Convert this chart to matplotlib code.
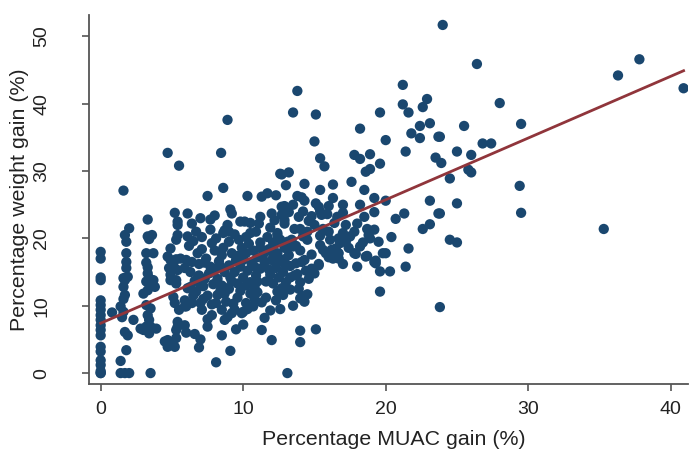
import matplotlib
matplotlib.use('Agg')
import matplotlib.pyplot as plt
import numpy as np

# Percentage MUAC gain (x) / percentage weight gain (y)
col0_weight = [0, 0, 0.3, 1.2, 1.9, 3.2, 3.9, 5.6, 6.4, 7.1, 7.9, 8.6, 9.4,
               10.1, 10.8, 13.8, 14.2, 17.0, 18.0]

left_pts = [
    (1.6, 27.1), (2.0, 21.5), (1.7, 20.5), (1.8, 19.5), (1.8, 17.8), (1.8, 15.6),
    (1.6, 14.1), (1.9, 14.3), (1.7, 13.8), (1.6, 12.8), (1.7, 11.6), (1.4, 9.9),
    (1.6, 9.1), (0.8, 9.0), (2.3, 7.9), (1.7, 6.1), (1.9, 5.6), (1.8, 3.4),
    (1.4, 1.8), (1.4, 0), (1.7, 0), (2.0, 0), (1.6, 11.0), (1.5, 8.3), (1.8, 16.5),
    (3.3, 22.8), (3.3, 20.3), (3.4, 19.9), (3.2, 17.8), (3.7, 17.8), (3.2, 16.4),
    (3.3, 15.7), (3.3, 14.8), (3.4, 14.1), (3.2, 13.6), (3.7, 13.8), (3.5, 13.1),
    (3.3, 12.3), (3.0, 11.8), (3.2, 10.1), (3.5, 9.6), (3.3, 8.6), (3.4, 7.9),
    (3.2, 6.9), (3.0, 6.4), (2.8, 6.6), (3.5, 6.9), (3.9, 6.6), (3.4, 5.9),
    (3.5, 0), (3.8, 12.8), (3.6, 20.5),
]

mid_left_pts = [
    (4.7, 32.7), (5.5, 30.8), (5.2, 23.8), (6.1, 23.7), (5.4, 22.5), (5.4, 22.0),
    (5.4, 20.5), (5.3, 19.8), (4.9, 18.5), (4.7, 17.3), (4.9, 16.8), (5.3, 16.9),
    (5.1, 16.0), (4.8, 15.6), (5.4, 15.3), (4.9, 14.6), (5.3, 13.8), (5.6, 17.0),
    (6.0, 16.8), (5.9, 15.6), (4.9, 13.8), (5.3, 13.3), (5.1, 11.3), (5.2, 10.4),
    (5.5, 9.4), (5.9, 9.9), (5.4, 7.6), (5.4, 6.9), (5.3, 6.4), (6.1, 12.6),
    (4.7, 4.9), (4.5, 4.7), (4.9, 4.4), (5.2, 3.9), (5.3, 5.2), (4.7, 3.9),
    (6.0, 6.0), (5.9, 7.1), (6.6, 5.8), (7.0, 5.0), (6.9, 3.8), (6.3, 12.8),
    (6.7, 12.1), (5.9, 10.8), (6.0, 9.9), (6.4, 10.4), (7.0, 10.4), (7.1, 9.4),
    (7.8, 8.6),
]

low_pts = [
    (8.1, 1.6), (9.1, 3.3), (7.5, 6.9), (8.5, 5.6), (10.0, 7.2), (11.3, 6.4),
    (12.0, 4.9), (11.9, 9.3), (11.3, 10.5), (10.7, 9.9), (10.3, 9.5), (10.0, 9.1),
    (9.9, 8.9), (9.4, 9.4), (9.2, 8.9), (8.9, 8.3), (8.7, 7.9), (8.5, 9.4),
    (8.1, 10.4), (8.2, 11.6), (8.7, 11.8), (8.8, 10.6), (13.1, 0), (13.5, 10.0),
    (14.0, 11.1), (14.2, 11.4), (14.5, 11.7), (14.3, 10.6), (12.7, 12.6),
    (12.4, 12.1), (12.8, 11.6), (13.3, 12.4), (14.0, 6.3), (15.1, 6.5), (14.0, 4.6),
    (9.6, 11.2), (10.5, 11.8), (11.0, 12.0), (9.0, 12.5), (7.5, 11.5), (7.2, 12.9),
    (10.2, 10.4),
]

dense_pts = [
    (6.2, 18.9), (6.5, 19.6), (6.8, 17.8), (7.1, 18.4), (6.4, 16.5), (6.9, 16.2),
    (7.4, 17.0), (7.7, 15.8), (6.3, 15.0), (6.9, 14.5), (7.3, 14.0), (7.6, 14.8),
    (8.0, 15.5), (8.3, 16.6), (8.5, 17.5), (8.0, 18.2), (7.8, 19.3), (8.6, 18.6),
    (9.0, 19.5), (9.2, 17.8), (9.5, 16.8), (9.0, 16.0), (8.7, 15.0), (8.2, 14.0),
    (7.9, 13.2), (8.5, 13.0), (9.1, 14.2), (9.4, 15.0), (9.8, 15.8), (10.0, 16.8),
    (10.2, 17.8), (9.9, 18.6), (10.4, 19.2), (10.7, 18.2), (11.0, 17.2),
    (10.6, 16.2), (10.3, 15.2), (10.0, 14.2), (9.6, 13.3), (10.5, 13.5),
    (10.9, 14.5), (11.2, 15.5), (11.5, 16.5), (11.4, 17.6), (11.8, 18.4),
    (11.2, 19.4), (11.7, 20.2), (12.2, 19.2), (12.4, 17.8), (12.0, 16.8),
    (12.3, 15.6), (11.9, 14.6), (11.6, 13.6), (12.5, 14.2), (12.8, 15.0),
    (12.9, 16.2), (13.2, 17.5), (12.9, 18.6), (7.7, 22.8), (7.7, 21.3), (8.9, 22.0),
    (8.7, 21.2), (8.6, 20.8), (9.8, 22.5), (10.1, 22.5), (10.5, 22.3), (10.5, 20.8),
    (11.2, 23.2), (11.1, 22.2), (12.0, 23.7), (12.7, 24.7), (12.7, 23.5),
    (12.9, 22.7), (9.1, 24.3), (9.2, 23.7), (6.1, 20.3), (6.7, 21.0), (7.1, 20.2),
    (8.1, 20.0), (9.4, 20.6), (10.9, 21.0), (11.9, 21.6), (12.4, 20.8), (7.3, 16.4),
    (6.6, 13.7), (7.0, 13.0), (8.8, 12.6), (10.8, 12.8), (12.1, 13.3), (9.7, 19.8),
]

dense_extra_pts = [
    (6.5, 11.5), (7.2, 11.0), (7.8, 10.2), (8.4, 12.2), (9.3, 10.3), (9.8, 12.2),
    (10.8, 11.0), (11.6, 11.2), (12.3, 10.8), (11.0, 13.6), (10.2, 13.0),
    (9.2, 13.6), (8.4, 15.8), (9.6, 17.4), (10.8, 15.8), (11.8, 15.4), (12.6, 16.8),
    (11.2, 18.6), (10.2, 20.2), (9.0, 21.0), (13.6, 21.4), (14.8, 23.3),
    (13.5, 25.0), (15.6, 21.4), (16.6, 23.2), (17.8, 21.0), (18.4, 19.4),
    (17.0, 16.2), (18.0, 15.8), (14.8, 17.6), (14.0, 18.2), (12.6, 19.8),
    (6.4, 22.2), (7.0, 23.0), (8.0, 23.4), (13.9, 12.5), (12.6, 9.5), (11.5, 8.2),
    (9.5, 6.5), (7.5, 8.0),
]

upper_mid_pts = [
    (8.9, 37.6), (8.45, 32.7), (8.6, 27.5), (7.5, 26.3), (10.3, 26.3), (11.3, 26.2),
    (11.7, 26.7), (12.3, 26.4), (12.6, 29.6), (13.0, 27.9),
]

center_pts = [
    (13.8, 41.9), (13.5, 38.7), (15.1, 38.4), (15.0, 34.4), (15.4, 31.9),
    (15.7, 30.7), (12.7, 29.5), (13.2, 29.8), (14.3, 28.1), (15.4, 27.2),
    (16.3, 28.0), (17.6, 28.4), (18.5, 27.2), (19.2, 26.0), (20.0, 25.6),
    (13.8, 26.3), (14.1, 26.1), (14.3, 25.6), (15.1, 25.2), (15.3, 24.7),
    (15.4, 24.0), (15.5, 23.5), (17.0, 23.8), (19.2, 23.9), (20.7, 22.9),
    (21.3, 23.7), (12.9, 24.8), (13.2, 23.9), (12.8, 23.6), (12.2, 22.7),
    (12.9, 22.2), (14.0, 21.4), (15.0, 22.0), (15.4, 20.4), (14.2, 20.3),
    (14.5, 19.8), (14.5, 21.0), (13.4, 19.8), (13.3, 18.8), (13.7, 18.9),
    (12.4, 20.5), (12.1, 19.4), (16.0, 21.0), (16.1, 19.8), (16.7, 20.0),
    (17.0, 20.8), (16.8, 19.3), (17.2, 19.5), (16.5, 18.5), (16.2, 18.3),
    (15.8, 17.8), (15.6, 18.3), (15.4, 19.0), (16.0, 17.2), (16.3, 17.0),
    (16.7, 17.0), (16.7, 17.8), (17.8, 17.8), (18.8, 20.5), (18.9, 20.0),
    (18.7, 21.4), (18.6, 17.3), (19.2, 16.5), (19.8, 17.8), (20.3, 15.1),
    (19.6, 15.1), (14.3, 16.8), (14.1, 16.5), (13.7, 16.3), (15.3, 16.0),
    (13.1, 19.5), (13.5, 18.8), (12.9, 16.9), (13.3, 15.9), (13.8, 14.7),
    (13.6, 14.5), (15.3, 16.2), (19.3, 16.3), (19.3, 16.7), (20.0, 17.8),
    (17.9, 17.7), (18.7, 17.4), (19.6, 12.1), (21.4, 15.8), (21.6, 18.5),
    (14.0, 13.5), (14.6, 14.0), (15.0, 14.8), (14.8, 15.5), (14.4, 15.2),
    (13.0, 13.5), (13.3, 14.2), (12.0, 18.0), (17.4, 18.6), (18.2, 18.8),
    (17.5, 20.3), (16.4, 22.3), (17.2, 22.0), (14.6, 22.6), (13.9, 23.2),
    (14.2, 24.0), (16.3, 26.0), (17.0, 25.0), (18.2, 25.0), (18.5, 23.2),
    (18.0, 22.2), (19.2, 21.3), (19.5, 19.5), (20.4, 20.2), (15.9, 23.6),
    (16.0, 24.8),
]

right_pts = [
    (24.5, 19.8), (25.0, 19.4), (23.8, 9.8), (35.3, 21.4), (29.4, 27.8),
    (29.5, 23.8), (25.0, 25.2), (23.8, 23.7), (24.5, 28.9), (25.8, 30.2),
    (26.0, 29.8), (23.9, 31.2), (25.0, 32.9), (26.0, 32.4), (26.8, 34.1),
    (27.4, 34.1), (23.8, 35.1), (25.5, 36.7), (29.5, 37.0), (28.0, 40.1),
    (26.4, 45.9), (24.0, 51.7), (36.3, 44.2), (37.8, 46.6), (40.9, 42.3),
    (21.2, 42.8), (21.2, 39.9), (21.6, 38.7), (22.9, 40.7), (22.6, 39.5),
    (19.6, 38.7), (18.2, 36.3), (21.8, 35.6), (22.4, 36.7), (23.1, 37.1),
    (22.4, 34.9), (23.7, 35.1), (20.0, 34.6), (21.4, 32.9), (17.8, 32.4),
    (18.2, 31.8), (18.9, 32.5), (19.6, 31.1), (18.6, 29.9), (18.9, 30.3),
    (23.5, 32.0), (23.1, 25.6), (23.7, 23.7), (23.1, 22.1), (22.6, 21.4),
]

# fitted line endpoints
fit_x = [0, 40.9]
fit_y = [7.4, 44.9]

groups = [left_pts, mid_left_pts, low_pts, dense_pts, dense_extra_pts,
          upper_mid_pts, center_pts, right_pts]
pts = [(0.0, w) for w in col0_weight] + [p for g in groups for p in g]
muac = np.array([p[0] for p in pts])
weight = np.array([p[1] for p in pts])

plt.rcParams['font.family'] = ['Liberation Sans', 'DejaVu Sans']

fig = plt.figure(figsize=(6.92, 4.5), dpi=100)
ax = fig.add_axes([0.129, 0.147, 0.865, 0.82])

ax.scatter(muac, weight, s=55, color='#1a476f', edgecolors='none', zorder=2)
ax.plot(fit_x, fit_y, color='#90353b', lw=2, zorder=3)

ax.set_xlim(-0.8, 41.2)
ax.set_ylim(-1.6, 53.2)
ax.set_xticks([0, 10, 20, 30, 40])
ax.set_yticks([0, 10, 20, 30, 40, 50])

for s in ['top', 'right']:
    ax.spines[s].set_visible(False)
for s in ['left', 'bottom']:
    ax.spines[s].set_color('#555555')
    ax.spines[s].set_linewidth(1.3)

ax.tick_params(axis='both', colors='#555555', length=5, width=1.2, labelcolor='#222222',
               labelsize=14)
ax.tick_params(axis='x', pad=7)
ax.tick_params(axis='y', pad=23)
for lbl in ax.get_yticklabels():
    lbl.set_rotation(90)
    lbl.set_va('center')

ax.set_xlabel('Percentage MUAC gain (%)', fontsize=15.4, color='#222222')
ax.set_ylabel('Percentage weight gain (%)', fontsize=15.4, color='#222222')
ax.xaxis.set_label_coords(0.508, -0.125)
ax.yaxis.set_label_coords(-0.101, 0.5)

fig.savefig('out.png', dpi=100)
